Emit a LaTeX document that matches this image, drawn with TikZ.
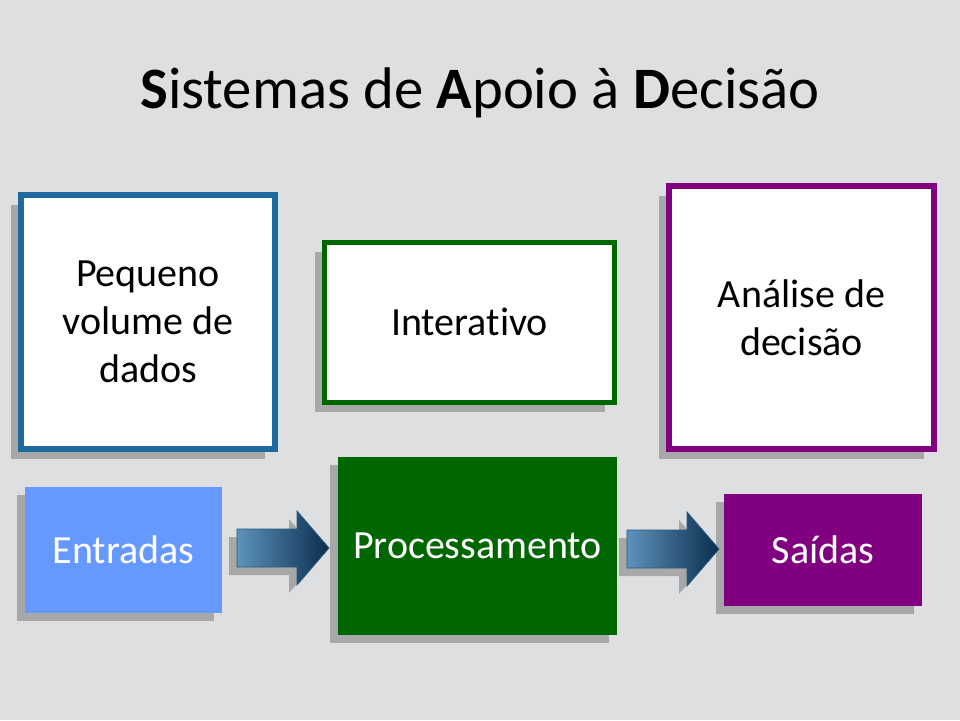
\documentclass[tikz,border=0pt]{standalone}
\usepackage{fontspec}
\setmainfont{Carlito}[Ligatures={NoCommon}]
\usetikzlibrary{shadows}
\definecolor{bg}{HTML}{DEDFE1}
\definecolor{bluebd}{HTML}{1D6A9E}
\definecolor{greenbd}{HTML}{006600}
\definecolor{purplebd}{HTML}{800080}
\definecolor{entfill}{HTML}{6699FF}
\definecolor{shadowgray}{HTML}{A8A8A8}
\definecolor{arrlight}{HTML}{5E93BC}
\definecolor{arrdark}{HTML}{0A2D4C}
\definecolor{arrline}{HTML}{2A5A80}
\begin{document}
\begin{tikzpicture}[x=1pt,y=-1pt,
  topbox/.style={draw,fill=white,line width=6pt,inner sep=0pt,align=center,
    font=\fontsize{40}{48}\selectfont,text=black,
    drop shadow={shadow xshift=-10pt,shadow yshift=-10pt,fill=shadowgray,opacity=1}},
  botbox/.style={inner sep=0pt,align=center,font=\fontsize{40}{48}\selectfont,text=white,
    drop shadow={shadow xshift=-8pt,shadow yshift=-8pt,fill=shadowgray,opacity=1}},
  pics/barrow/.style={code={
    \fill[shadowgray] (-8,-11) -- (52,-11) -- (52,-29) -- (84,8) -- (52,45) -- (52,27) -- (-8,27) -- cycle;
    \shade[left color=arrlight,right color=arrdark,draw=arrline,line width=0.8pt]
      (0,-19) -- (60,-19) -- (60,-37) -- (92,0) -- (60,37) -- (60,19) -- (0,19) -- cycle;
  }}]
\fill[bg] (0,0) rectangle (960,720);
\useasboundingbox (0,0) rectangle (960,720);

\node (title) at (480,108) [anchor=base,font=\fontsize{58.7}{70}\selectfont]
  {\textbf{S}istemas de \textbf{A}poio à \textbf{D}ecisão};

\node (peq) at (148,322) [topbox,draw=bluebd,minimum width=254pt,minimum height=254pt]
  {Pequeno\\volume de\\dados};
\node (int) at (469.5,322) [topbox,draw=greenbd,line width=5pt,minimum width=290pt,minimum height=160pt]
  {Interativo};
\node (ana) at (801.5,317.5) [topbox,draw=purplebd,minimum width=265pt,minimum height=263pt]
  {Análise de\\decisão};

\node (ent) at (123.5,550) [botbox,fill=entfill,minimum width=197pt,minimum height=126pt] {Entradas};
\node (proc) at (477.5,546) [botbox,fill=greenbd,minimum width=279pt,minimum height=178pt] {Processamento};
\node (sai) at (823,550) [botbox,fill=purplebd,minimum width=198pt,minimum height=112pt] {Saídas};

\coordinate (a1) at (237,548);
\coordinate (a2) at (627,549);
\pic at (a1) {barrow};
\pic at (a2) {barrow};
\end{tikzpicture}
\end{document}
